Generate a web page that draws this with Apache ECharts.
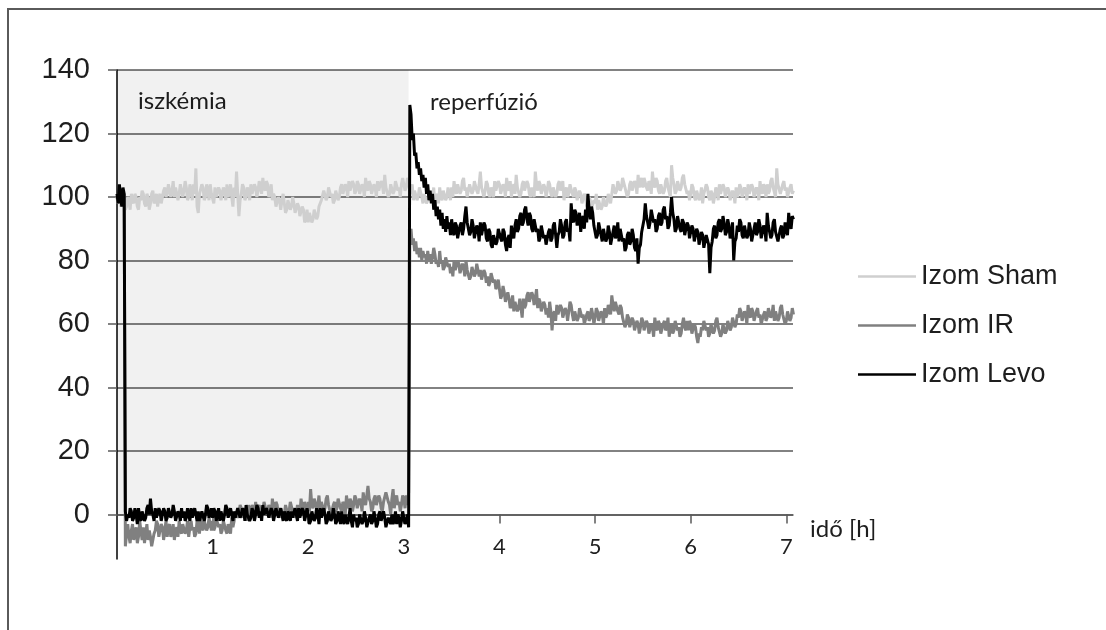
<!DOCTYPE html>
<html>
<head>
<meta charset="utf-8">
<script src="https://cdn.jsdelivr.net/npm/echarts@6/dist/echarts.min.js"></script>
<style>
html,body{margin:0;padding:0;background:#fff;}
#chart{width:1106px;height:630px;}
</style>
</head>
<body>
<div id="chart"></div>
<script>
// Sampling: one value every 0.0125 h, starting at t = 0 h (40 values per half hour row)
const sampleStepHours = 0.0125;

const seriesNames = ['Izom Sham', 'Izom IR', 'Izom Levo'];
const xTickValues = [1, 2, 3, 4, 5, 6, 7];
const yTickValues = [0, 20, 40, 60, 80, 100, 120, 140];
const phaseLabels = ['iszkémia', 'reperfúzió'];
const ischemiaEndHours = 3.05;
const axisTitleX = 'idő [h]';

const shamValues = [
  100,98,101,97,98,101,100,96,97,100, 99,96,101,99,98,101,100,97,96,100, 99,102,101,98,97,101,100,96,98,101, 102,98,99,101,97,100,101,98,100,102,
  103,100,101,104,104,100,102,105,100,103, 103,99,101,104,104,100,102,105,103,99, 100,104,102,99,104,101,109,97,95,101, 101,104,103,99,100,104,102,99,104,101,
  101,98,103,100,100,103,102,99,99,103, 102,99,104,100,101,104,100,97,103,100, 108,101,94,99,101,104,103,99,100,103, 102,99,104,101,101,104,103,100,102,105,
  103,101,106,103,102,105,104,100,101,104, 99,101,100,97,97,100,99,96,99,101, 98,95,96,99,99,96,97,100,98,95, 95,98,97,94,94,97,96,92,93,96,
  92,95,95,92,93,96,96,93,94,97, 97,99,99,102,102,99,100,103,103,100, 101,98,99,102,102,99,100,103,104,101, 101,104,103,100,105,102,102,105,104,101,
  102,105,104,101,101,104,103,100,106,103, 102,105,104,101,101,104,103,100,105,102, 102,105,104,101,107,103,103,100,101,104, 104,101,102,105,105,102,103,100,104,106,
  106,102,103,106,105,102,101,104,99,102, 102,99,100,103,103,100,98,101,101,98, 99,102,102,99,100,103,97,100,101,98, 103,100,99,102,102,99,100,103,101,99,
  103,100,105,102,101,104,104,101,102,105, 106,102,103,100,100,104,104,101,102,105, 105,102,101,104,108,103,103,100,102,105, 104,101,100,103,103,100,105,102,102,105,
  104,101,101,104,103,100,106,103,102,105, 100,103,104,101,107,103,103,100,101,104, 105,102,102,105,104,101,100,103,103,100, 108,104,102,105,104,101,101,104,103,100,
  102,105,104,101,100,103,103,100,101,104, 105,102,102,105,99,102,103,100,101,104, 104,101,100,103,102,99,99,102,101,98, 98,101,100,97,97,100,99,96,96,99,
  98,101,96,99,99,96,97,100,100,97, 98,101,101,98,101,104,104,101,102,105, 105,102,103,106,106,103,103,100,101,104, 105,102,102,105,104,101,107,103,103,106,
  103,106,106,103,102,105,104,101,108,104, 103,106,105,102,101,104,104,101,102,105, 106,103,103,100,110,106,104,101,102,105, 105,102,103,106,107,104,104,101,102,99,
  101,104,103,100,99,102,102,99,100,103, 98,101,101,104,103,100,99,102,101,98, 100,103,102,99,104,101,101,104,103,100, 100,103,102,99,99,102,101,98,103,100,
  101,104,103,100,100,103,102,99,104,101, 101,104,103,100,100,103,102,99,105,102, 101,104,103,100,104,101,102,105,106,103, 103,100,109,104,104,101,101,104,105,102,
  103,100,100,103,104,101,102
];

const irValues = [
  100,98,101,99,102,100,101,-10,-6,-3, -7,-9,-5,-3,-8,-6,-4,-9,-7,-2, -5,-8,-4,-9,-6,-3,-8,-5,-7,-10, -10,-6,-5,-2,-3,-7,-7,-3,-4,-8,
  -5,-2,-7,-4,-3,-7,-6,-3,-8,-5, -4,-7,-2,-5,-6,-3,-3,-6,-5,-2, -7,-4,-2,-5,-4,-7,-6,-2,-3,-6, -1,-4,-5,-2,-2,-5,-4,-1,-3,-5,
  -2,-5,-4,-1,-1,-4,-3,-6,-5,-2, -2,-5,-6,-3,-3,-6,-1,-4,-2,1, 1,-1,0,3,2,-1,-1,2,1,-2, 3,0,0,3,2,-1,4,1,1,3,
  3,0,1,4,4,1,0,3,2,-1, 5,2,1,4,3,0,-1,2,2,-1, 0,3,3,0,1,4,4,1,2,-1, 0,3,3,0,5,2,1,4,2,-1,
  4,1,8,3,2,5,5,2,3,6, 1,4,4,1,2,5,6,3,3,0, 0,3,4,1,2,5,5,2,1,4, 3,0,6,3,2,5,4,1,3,6,
  5,2,2,5,4,1,7,4,3,6, 9,5,4,1,2,5,6,3,3,6, 5,2,1,4,4,7,7,4,3,0, 5,8,2,5,6,3,4,1,3,6,
  5,2,6,3,7,88,90,85,87,83, 86,82,84,81,84,80,83,81,82,79, 83,80,82,79,81,84,82,79,80,78, 83,79,80,77,78,81,81,78,79,76,
  78,75,80,77,77,80,79,76,76,79, 78,75,80,77,77,74,75,78,78,75, 76,79,79,75,77,74,74,77,76,73, 75,72,73,76,76,73,74,71,72,74,
  71,68,69,72,70,67,67,70,68,65, 66,69,64,67,67,64,65,68,65,62, 68,65,66,69,70,67,67,70,69,66, 68,71,65,68,67,64,64,67,66,63,
  65,62,67,64,58,63,64,61,66,63, 63,66,65,62,62,65,64,61,64,67, 66,63,61,64,64,61,62,65,65,62, 63,60,60,63,64,61,62,65,63,60,
  62,65,64,61,61,64,63,60,65,62, 63,66,66,63,69,66,64,67,67,64, 63,66,65,62,62,59,60,63,62,59, 59,62,61,58,58,61,60,57,59,62,
  61,58,58,61,60,57,57,60,59,56, 62,59,58,61,60,57,57,60,61,58, 59,62,56,59,60,57,58,61,61,58, 59,56,57,60,62,59,58,61,58,61,
  60,57,57,60,59,56,54,57,56,59, 58,61,61,58,59,56,57,60,60,57, 58,61,62,59,59,56,57,60,60,57, 58,61,61,58,59,62,62,59,60,63,
  62,65,64,61,61,64,63,60,66,63, 62,65,64,61,61,64,65,62,63,60, 60,63,64,61,62,65,65,62,63,66, 61,64,64,61,62,65,66,63,63,60,
  61,64,64,61,62,65,63
];

const levoValues = [
  101,98,104,100,97,103,101,1,-2,0, -1,2,1,-2,-1,2,0,-3,2,-1, -2,1,1,-2,-1,2,3,0,5,1, 0,-2,2,-1,-1,2,1,-2,0,2,
  1,-2,-1,2,2,-1,0,3,1,-2, -2,1,0,-2,2,-1,1,-2,-1,2, 0,-2,2,-1,-1,2,0,-2,1,-2, -2,1,1,-2,0,3,2,-1,0,2,
  -1,2,1,-2,0,2,-2,1,1,-2, 0,3,2,-1,-1,2,0,-2,1,-1, -1,2,2,-1,0,2,1,-2,3,0, 0,-2,-1,2,1,-2,0,3,2,-1,
  1,-2,3,0,0,2,2,-1,-1,2, 1,-2,0,2,2,-1,-1,2,0,-2, 1,-1,-2,1,0,-2,1,-1,-1,2, 0,-2,2,-1,-1,2,1,-2,0,2,
  0,-3,-2,1,1,-2,-1,2,0,-3, 2,-1,-1,2,0,-3,-2,1,1,-2, -1,2,0,-3,-2,1,-1,-3,1,-2, -3,0,0,-3,-1,2,-2,-4,0,-2,
  -1,-4,-3,0,0,-3,-2,1,-1,-4, -4,-1,0,-3,-2,1,-1,-4,-3,0, 1,-2,-2,1,-1,-4,-4,-1,-1,-3, 0,-3,-2,1,-3,0,-1,-4,-2,1,
  -1,-3,-2,0,-4,129,126,118,120,113, 114,109,111,107,109,105,107,103,106,101, 104,99,102,98,101,96,99,94,97,93, 96,91,95,90,93,89,94,90,92,88,
  93,89,88,92,91,87,87,91,92,88, 90,94,97,92,92,88,89,93,91,87, 87,91,90,86,92,88,88,92,91,87, 86,90,89,85,84,88,88,85,86,90,
  90,87,86,90,89,85,83,87,88,84, 91,88,87,91,93,89,90,94,95,91, 92,96,97,93,91,95,94,90,89,93, 93,89,90,86,87,91,91,87,88,85,
  85,89,90,86,87,91,92,88,84,88, 89,93,91,87,88,92,93,89,90,86, 98,93,92,96,95,91,91,95,89,93, 94,90,96,92,101,96,93,97,95,91,
  91,87,88,92,92,88,86,90,90,86, 87,91,89,85,85,89,91,87,88,92, 86,90,90,86,87,83,84,88,89,85, 86,90,88,84,83,87,79,84,85,89,
  89,93,98,94,94,90,92,96,96,92, 93,89,90,94,95,91,92,96,97,93, 94,90,91,95,100,95,93,89,90,94, 94,90,89,93,92,88,88,92,91,87,
  87,91,90,86,86,90,89,85,85,89, 88,84,84,88,88,85,76,84,86,90, 91,87,88,92,93,89,90,94,92,88, 89,93,91,87,88,92,80,86,87,91,
  89,93,92,88,87,91,91,87,88,92, 90,86,86,90,92,88,89,93,91,87, 87,91,90,86,95,91,91,87,88,92, 93,89,89,86,86,90,91,87,88,92,
  92,88,95,91,90,94,93
];

function toPoints(values) {
  return values.map((v, i) => [Number((i * sampleStepHours).toFixed(4)), v]);
}

const gridColor = '#595959';
const textColor = '#1e1e1e';

const chart = echarts.init(document.getElementById('chart'), null, {renderer: 'canvas'});
chart.setOption({
  animation: false,
  backgroundColor: '#ffffff',
  grid: {left: 117, right: 313, top: 70, bottom: 71, containLabel: false},
  xAxis: {
    type: 'value', min: 0, max: 7.07,
    axisLine: {show: true, onZero: true, lineStyle: {color: gridColor, width: 1.5}},
    axisTick: {show: true, inside: false, length: 9, customValues: xTickValues, lineStyle: {color: gridColor, width: 1.5}},
    axisLabel: {customValues: xTickValues, margin: -23, fontFamily: 'Lato', fontSize: 22, color: textColor},
    splitLine: {show: false}
  },
  yAxis: {
    type: 'value', min: -14, max: 140,
    axisLine: {show: true, lineStyle: {color: '#000', width: 1.5}},
    axisTick: {show: true, inside: false, length: 9, customValues: yTickValues, lineStyle: {color: gridColor, width: 1.5}},
    axisLabel: {customValues: yTickValues, margin: 27, fontFamily: 'Liberation Sans', fontSize: 29, color: textColor},
    splitLine: {show: true, lineStyle: {color: gridColor, width: 1.5}}
  },
  legend: {
    orient: 'vertical', left: 853, top: 258,
    icon: 'rect',
    itemWidth: 58, itemHeight: 2.5, itemGap: 22,
    textStyle: {fontFamily: 'Liberation Sans', fontSize: 27, color: textColor, lineHeight: 27},
    data: seriesNames
  },
  graphic: [
    {type: 'rect', silent: true, z: 100, shape: {x: 8, y: 9, width: 1200, height: 700},
     style: {fill: 'none', stroke: '#5a5a5a', lineWidth: 2}},
    {type: 'text', left: 138, top: 89, style: {text: phaseLabels[0], font: '24px Lato', fill: textColor}},
    {type: 'text', left: 430, top: 90, style: {text: phaseLabels[1], font: '24px Lato', fill: textColor}},
    {type: 'text', left: 810, top: 517, style: {text: axisTitleX, font: '24px Lato', fill: textColor}}
  ],
  series: [
    {
      name: seriesNames[0], type: 'line', symbol: 'none', data: toPoints(shamValues),
      lineStyle: {color: '#cfcfcf', width: 3}, itemStyle: {color: '#cfcfcf'},
      z: 2,
      markArea: {
        silent: true,
        itemStyle: {color: 'rgba(0,0,0,0.055)'},
        data: [[{xAxis: 0, yAxis: 0}, {xAxis: ischemiaEndHours, yAxis: 140}]]
      }
    },
    {
      name: seriesNames[1], type: 'line', symbol: 'none', data: toPoints(irValues),
      lineStyle: {color: '#808080', width: 3}, itemStyle: {color: '#808080'}, z: 3
    },
    {
      name: seriesNames[2], type: 'line', symbol: 'none', data: toPoints(levoValues),
      lineStyle: {color: '#000000', width: 3}, itemStyle: {color: '#000000'}, z: 4
    }
  ]
});
</script>
</body>
</html>
